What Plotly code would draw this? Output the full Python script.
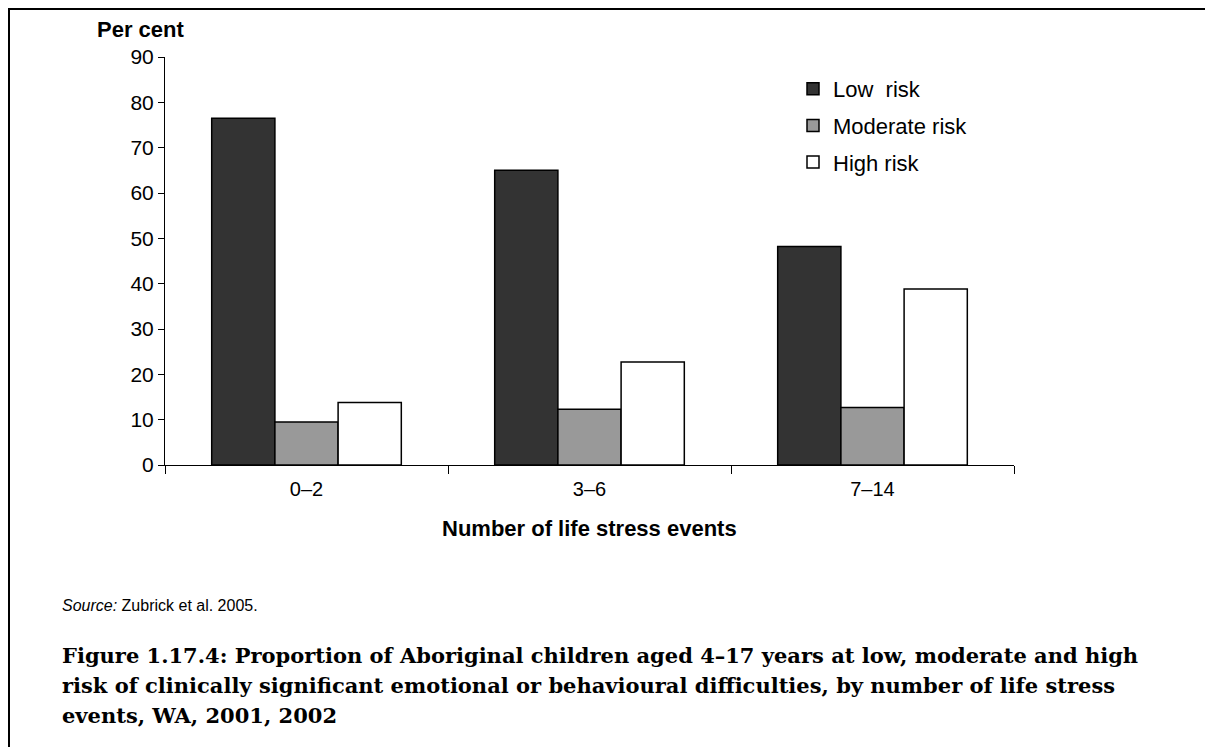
import plotly.graph_objects as go

categories = ["0–2", "3–6", "7–14"]
low_risk = [76.5, 65.0, 48.2]
moderate_risk = [9.5, 12.3, 12.7]
high_risk = [13.8, 22.7, 38.8]
series_names = ["Low  risk", "Moderate risk", "High risk"]
series_colors = ["#333333", "#999999", "#ffffff"]
y_ticks = [0, 10, 20, 30, 40, 50, 60, 70, 80, 90]

W, H = 1213, 747
L, R, T, B = 157, 1006, 49, 457  # plot-area pixel box
PW, PH = R - L, B - T


def px(x):
    return (x - L) / PW


def py(y):
    return (B - y) / PH


fig = go.Figure()
for i, (name, vals, col) in enumerate(zip(series_names, [low_risk, moderate_risk, high_risk], series_colors)):
    fig.add_trace(go.Bar(
        x=categories, y=vals, name=name, legendgroup=f"g{i}",
        marker=dict(color=col, line=dict(color="#000000", width=1.5)),
    ))

fig.update_layout(
    width=W, height=H,
    margin=dict(l=L, r=W - R, t=T, b=H - B, pad=0),
    paper_bgcolor="white", plot_bgcolor="white",
    barmode="group", bargap=0.33, bargroupgap=0,
    font=dict(family="Liberation Sans, Arial, sans-serif", size=20, color="#000000"),
    showlegend=True,
    legend=dict(
        x=px(785), y=py(60), xanchor="left", yanchor="top",
        font=dict(size=22), tracegroupgap=5, bgcolor="rgba(0,0,0,0)",
    ),
)

fig.update_xaxes(
    type="category", showline=True, linecolor="#000000", linewidth=1,
    ticks="outside", tickson="boundaries", ticklen=8, tickcolor="#000000",
    showgrid=False, tickfont=dict(size=20), ticklabelstandoff=6,
)
fig.update_yaxes(
    range=[0, 90], tickvals=y_ticks, showline=True, linecolor="#000000", linewidth=1,
    ticks="outside", ticklen=6, tickcolor="#000000", showgrid=False, zeroline=False,
    tickfont=dict(size=21),
)

fig.add_annotation(text="<b>Number of life stress events</b>", xref="paper", yref="paper",
                   x=0.5, y=py(520), xanchor="center", yanchor="middle",
                   showarrow=False, font=dict(size=22))

fig.add_annotation(text="<b>Per cent</b>", xref="paper", yref="paper",
                   x=px(87), y=py(21), xanchor="left", yanchor="middle",
                   showarrow=False, font=dict(size=22))

fig.add_annotation(text="<i>Source:</i> Zubrick et al. 2005.", xref="paper", yref="paper",
                   x=px(52), y=py(597), xanchor="left", yanchor="middle",
                   showarrow=False, font=dict(size=16))

caption_lines = [
    "Figure 1.17.4: Proportion of Aboriginal children aged 4–17 years at low, moderate and high",
    "risk of clinically significant emotional or behavioural difficulties, by number of life stress",
    "events, WA, 2001, 2002",
]
for i, line in enumerate(caption_lines):
    fig.add_annotation(text=f"<b>{line}</b>", xref="paper", yref="paper",
                       x=px(52), y=py(647 + 30 * i), xanchor="left", yanchor="middle",
                       showarrow=False, font=dict(family="DejaVu Serif, serif", size=21))

# outer frame
fig.add_shape(type="rect", xref="paper", yref="paper",
              x0=px(1), x1=px(1205), y0=py(770), y1=py(1),
              line=dict(color="#000000", width=2), fillcolor="rgba(0,0,0,0)", layer="below")

fig.write_html("out.html")
